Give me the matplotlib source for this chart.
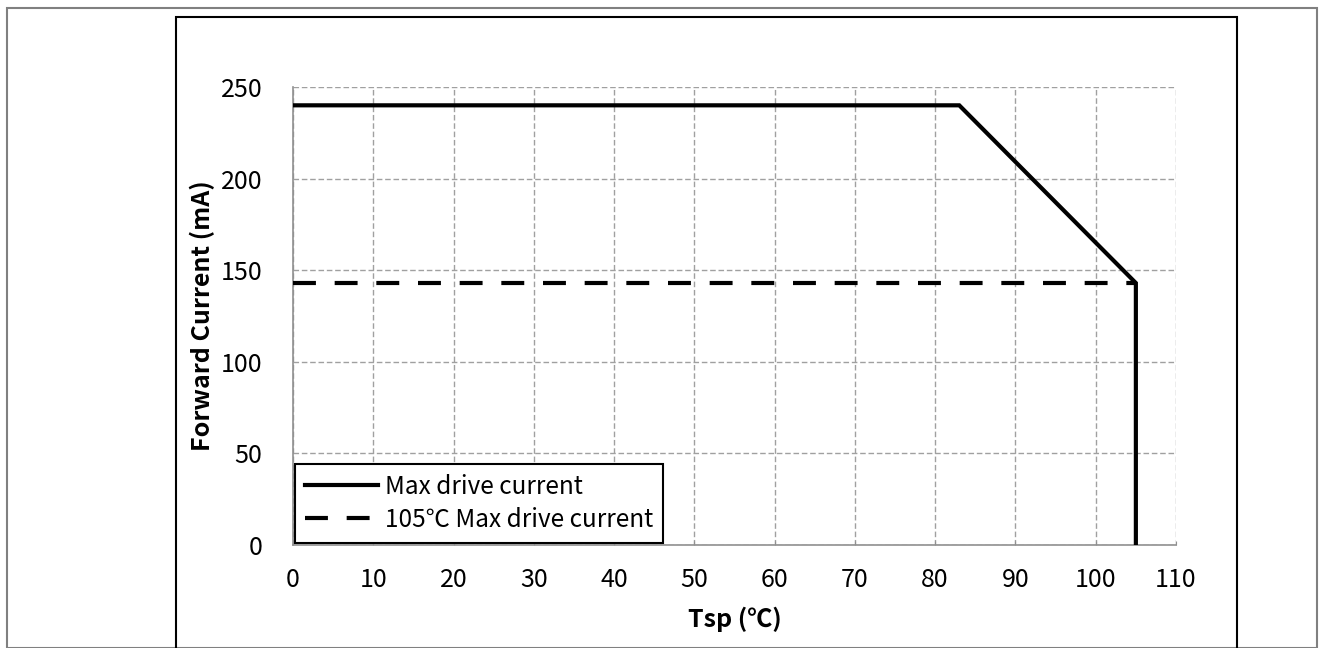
import matplotlib.pyplot as plt
from matplotlib.patches import Rectangle

# 데이터
tsp = [0, 83, 105, 105]
max_current = [240, 240, 143, 0]
tsp_105 = [0, 105]
current_105 = [143, 143]

x_ticks = list(range(0, 111, 10))
y_ticks = list(range(0, 251, 50))

plt.rcParams['font.family'] = ['Noto Sans CJK JP', 'DejaVu Sans']

fig = plt.figure(figsize=(13.21, 6.48), dpi=100)

# 바깥 테두리
W, H = 1321, 648
fig.patches.append(Rectangle((7 / W, 0), (1317 - 7) / W, 1 - 8 / H, transform=fig.transFigure,
                             fill=False, edgecolor='#808080', linewidth=1.5))
fig.patches.append(Rectangle((176 / W, -0.01), (1237 - 176) / W, 1 - 17 / H + 0.01, transform=fig.transFigure,
                             fill=False, edgecolor='black', linewidth=1.5))

ax = fig.add_axes([293 / W, 1 - 545 / H, (1176 - 293) / W, (545 - 87) / H])

ax.plot(tsp, max_current, color='black', linewidth=3, solid_joinstyle='miter',
        label='Max drive current', zorder=3)
ax.plot(tsp_105, current_105, color='black', linewidth=3, dashes=(5.5, 4.5),
        label='105℃ Max drive current', zorder=3)

ax.set_xlim(0, 110)
ax.set_ylim(0, 250)
ax.set_xticks(x_ticks)
ax.set_yticks(y_ticks)
ax.grid(True, color='#a0a0a0', linestyle=(0, (4, 2)), linewidth=1)
ax.set_axisbelow(True)

for s in ['top', 'right']:
    ax.spines[s].set_visible(False)
for s in ['left', 'bottom']:
    ax.spines[s].set_color('#909090')
    ax.spines[s].set_linewidth(1.2)

ax.tick_params(axis='x', direction='in', length=3, color='#909090', pad=16, labelsize=18)
ax.tick_params(axis='y', length=0, pad=22, labelsize=18)

ax.set_xlabel('Tsp (℃)', fontsize=18, fontweight='bold', labelpad=10)
ax.set_ylabel('Forward Current (mA)', fontsize=18, fontweight='bold', labelpad=4)

leg = ax.legend(loc='lower left', fontsize=17.5, fancybox=False, framealpha=1,
                edgecolor='black', handlelength=3.0, borderaxespad=0.1,
                borderpad=0.4, labelspacing=0.3, handletextpad=0.3)
leg.get_frame().set_linewidth(1.5)

fig.savefig('out.png', dpi=100)
